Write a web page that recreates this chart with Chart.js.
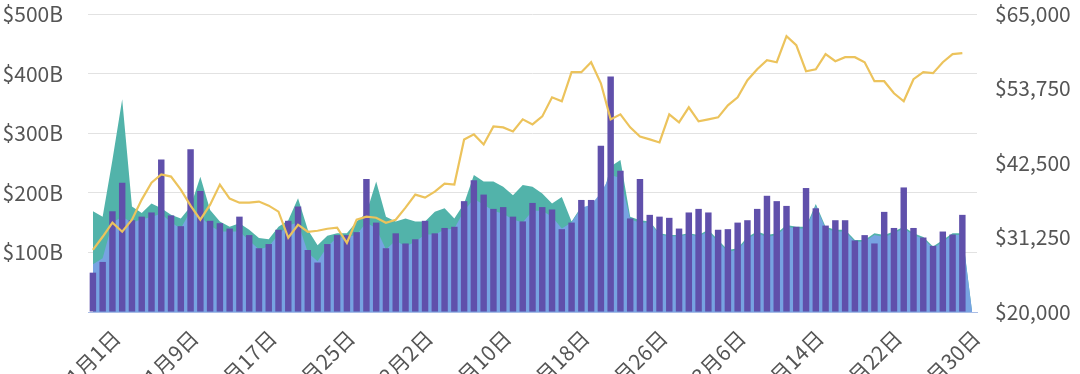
<!DOCTYPE html>
<html>
<head>
<meta charset="utf-8">
<script src="https://cdn.jsdelivr.net/npm/chart.js@4.4.1/dist/chart.umd.min.js"></script>
<style>
	html, body {
		margin: 0;
		padding: 0;
		background: #ffffff;
		overflow: hidden;
	}

	#wrap {
		position: absolute;
		left: 0;
		top: 0;
		width: 1080px;
		height: 395px;
	}
</style>
</head>
<body>
<div id="wrap"><canvas id="chart"></canvas></div>
<script>
// Dates, 2020-12-30 .. 2021-03-30
const dates = [
	"12月30日", "12月31日",
	"1月1日", "1月2日", "1月3日", "1月4日", "1月5日", "1月6日", "1月7日", "1月8日", "1月9日", "1月10日",
	"1月11日", "1月12日", "1月13日", "1月14日", "1月15日", "1月16日", "1月17日", "1月18日", "1月19日", "1月20日",
	"1月21日", "1月22日", "1月23日", "1月24日", "1月25日", "1月26日", "1月27日", "1月28日", "1月29日", "1月30日", "1月31日",
	"2月1日", "2月2日", "2月3日", "2月4日", "2月5日", "2月6日", "2月7日", "2月8日", "2月9日", "2月10日",
	"2月11日", "2月12日", "2月13日", "2月14日", "2月15日", "2月16日", "2月17日", "2月18日", "2月19日", "2月20日",
	"2月21日", "2月22日", "2月23日", "2月24日", "2月25日", "2月26日", "2月27日", "2月28日",
	"3月1日", "3月2日", "3月3日", "3月4日", "3月5日", "3月6日", "3月7日", "3月8日", "3月9日", "3月10日",
	"3月11日", "3月12日", "3月13日", "3月14日", "3月15日", "3月16日", "3月17日", "3月18日", "3月19日", "3月20日",
	"3月21日", "3月22日", "3月23日", "3月24日", "3月25日", "3月26日", "3月27日", "3月28日", "3月29日", "3月30日"
]

// Purple bars, billions USD
const bar_volume = [
	66, 84, 169, 217, 154, 160, 167, 256, 162, 144,
	273, 203, 153, 149, 140, 160, 129, 107, 114, 138,
	153, 177, 104, 83, 114, 129, 129, 134, 223, 150,
	107, 132, 115, 122, 153, 132, 141, 143, 186, 221,
	197, 173, 176, 160, 152, 183, 176, 172, 139, 150,
	188, 188, 279, 395, 237, 157, 223, 163, 160, 158,
	140, 167, 173, 167, 138, 139, 150, 154, 173, 195,
	186, 178, 143, 208, 174, 145, 154, 154, 120, 129,
	115, 168, 141, 209, 141, 125, 111, 135, 130, 163,
	null
]

// Teal area, billions USD
const total_volume = [
	169, 160, 255, 357, 177, 166, 182, 174, 163, 157,
	177, 227, 171, 152, 143, 149, 138, 124, 122, 143,
	154, 191, 138, 112, 128, 132, 132, 152, 166, 219,
	160, 152, 157, 152, 152, 168, 174, 157, 182, 230,
	219, 219, 210, 196, 213, 210, 199, 182, 193, 152,
	177, 166, 182, 244, 255, 160, 154, 152, 132, 129,
	129, 132, 129, 138, 121, 104, 107, 126, 135, 129,
	132, 146, 143, 143, 181, 143, 138, 138, 121, 121,
	132, 129, 135, 143, 132, 126, 110, 121, 132, 132,
	0
]

// Light blue area, billions USD
const spot_volume = [
	80, 90, 150, 160, 150, 155, 160, 165, 150, 140,
	170, 160, 145, 135, 135, 135, 120, 105, 110, 130,
	145, 150, 100, 85, 110, 125, 125, 130, 150, 140,
	105, 120, 110, 118, 130, 130, 138, 140, 170, 190,
	180, 170, 165, 155, 150, 170, 170, 160, 140, 150,
	175, 180, 200, 230, 225, 155, 150, 150, 130, 127,
	127, 130, 127, 135, 118, 101, 104, 123, 132, 126,
	129, 143, 140, 140, 178, 140, 135, 135, 118, 118,
	129, 126, 132, 140, 129, 123, 107, 118, 129, 129,
	0
]

// Yellow line, USD
const price = [
	29390, 31360, 33480, 32120, 33940, 36970, 39540, 40760, 40450, 38480,
	36060, 33940, 36210, 39240, 37120, 36510, 36510, 36670, 36060, 35150,
	31210, 33180, 32120, 32270, 32570, 32730, 30450, 33940, 34390, 34240,
	33480, 33940, 35760, 37730, 37270, 38180, 39390, 39240, 46060, 46820,
	45300, 48030, 47880, 47270, 49090, 48330, 49540, 52420, 51820, 56210,
	56210, 57720, 54540, 49090, 49850, 47880, 46510, 46060, 45600, 49850,
	48630, 50910, 48790, 49090, 49390, 51210, 52420, 55000, 56660, 58030,
	57720, 61660, 60300, 56360, 56660, 58940, 57880, 58480, 58480, 57720,
	54850, 54850, 53030, 51820, 55150, 56210, 56060, 57720, 58940, 59090,
	null
]

const left_ticks = [0, 100, 200, 300, 400, 500]
const right_ticks = [20000, 31250, 42500, 53750, 65000]

const font_family = "'Noto Sans CJK SC', 'Noto Sans', sans-serif"
const label_font = { family: font_family, size: 21 }
const label_color = "#555555"

// Fixed box sizes so the plot sits where it does in the source picture;
// the outer labels may run past the plot edges
const fit_box = size => scale => {
	scale.paddingLeft = 0
	scale.paddingRight = 0
	scale.paddingTop = 0
	scale.paddingBottom = 0

	if (scale.isHorizontal()) {
		scale.height = size
	} else {
		scale.width = size
	}
}

new Chart(document.getElementById("chart"), {
	type: "bar",
	data: {
		labels: dates,
		datasets: [
			{
				type: "line",
				data: price,
				yAxisID: "y_price",
				borderColor: "#ecc35c",
				borderWidth: 2.2,
				pointRadius: 0,
				tension: 0,
				fill: false,
				order: 0
			},
			{
				type: "bar",
				data: bar_volume,
				yAxisID: "y",
				backgroundColor: "#6050ab",
				categoryPercentage: 1,
				barPercentage: 0.66,
				order: 1
			},
			{
				type: "line",
				data: spot_volume,
				yAxisID: "y",
				borderWidth: 0,
				pointRadius: 0,
				tension: 0,
				backgroundColor: "#77a3e2",
				fill: "origin",
				order: 2
			},
			{
				type: "line",
				data: total_volume,
				yAxisID: "y",
				borderWidth: 0,
				pointRadius: 0,
				tension: 0,
				backgroundColor: "#52b3aa",
				fill: "origin",
				order: 3
			}
		]
	},
	options: {
		responsive: true,
		maintainAspectRatio: false,
		animation: false,
		layout: {
			padding: { left: 0, right: 0, top: 14, bottom: 0 }
		},
		plugins: {
			legend: { display: false },
			tooltip: { enabled: false }
		},
		scales: {
			x: {
				offset: true,
				afterFit: fit_box(83),
				grid: { display: false },
				border: { color: "#a9bde6", width: 1 },
				ticks: {
					autoSkip: false,
					maxRotation: 45,
					minRotation: 45,
					padding: 5,
					labelOffset: 4,
					font: label_font,
					color: label_color,
					callback: (value, index) => (index - 2) % 8 === 0 ? dates[index] : ""
				}
			},
			y: {
				position: "left",
				min: 0,
				max: 500,
				afterBuildTicks: axis => {
					axis.ticks = left_ticks.map(v => ({ value: v }))
				},
				afterFit: fit_box(88),
				grid: { color: "#e2e2e2", drawTicks: false },
				border: { display: false },
				ticks: {
					padding: 25,
					font: label_font,
					color: label_color,
					callback: value => value === 0 ? "" : "$" + value + "B"
				}
			},
			y_price: {
				position: "right",
				min: 20000,
				max: 65000,
				afterBuildTicks: axis => {
					axis.ticks = right_ticks.map(v => ({ value: v }))
				},
				afterFit: fit_box(103),
				grid: { display: false, drawTicks: false },
				border: { display: false },
				ticks: {
					padding: 18,
					font: label_font,
					color: label_color,
					callback: value => "$" + value.toLocaleString("en-US")
				}
			}
		}
	}
})
</script>
</body>
</html>
